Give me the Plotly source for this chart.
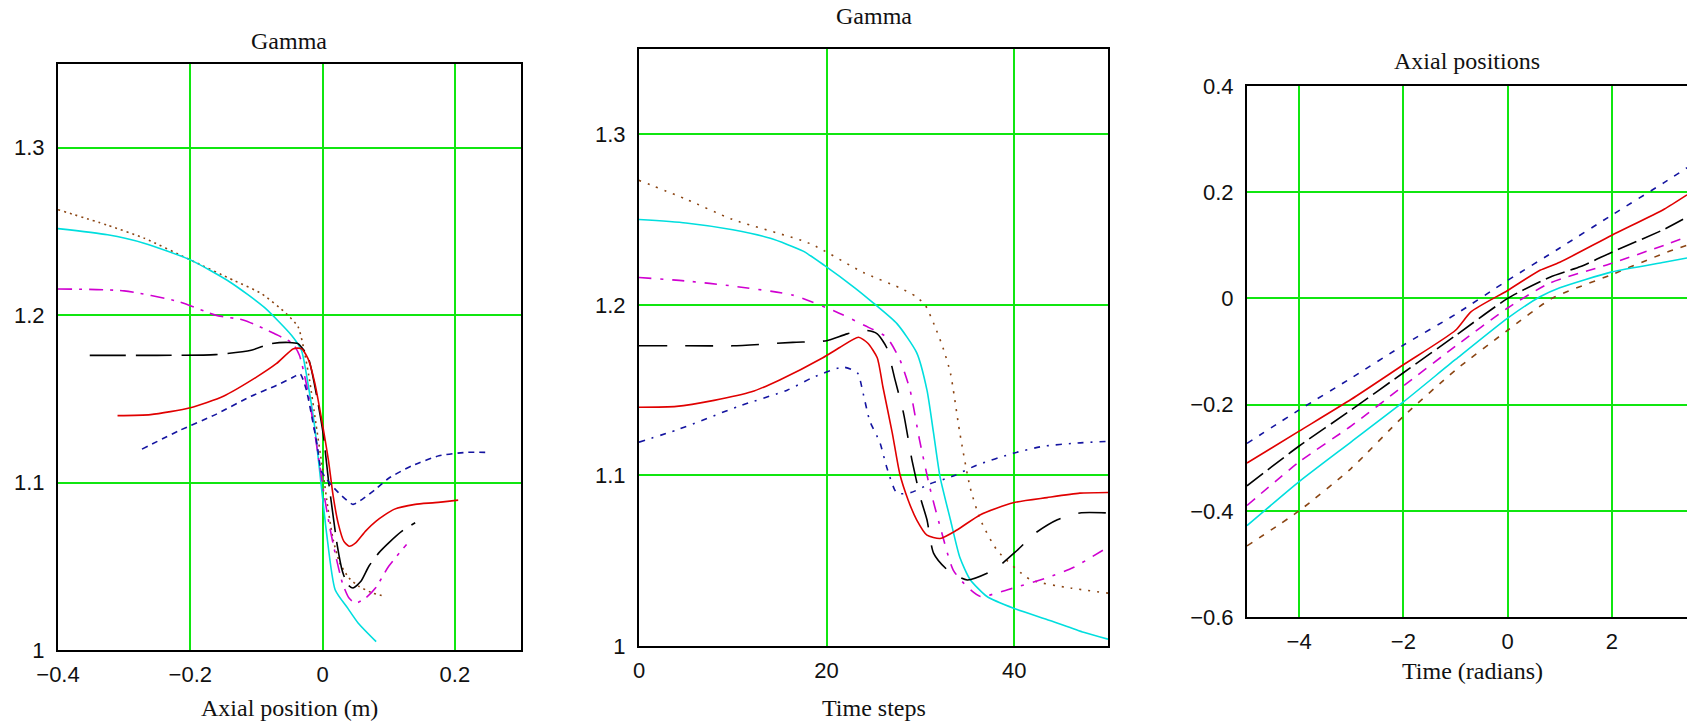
import plotly.graph_objects as go

W, H = 1687, 721

# ---------------- Panel 1: Gamma vs axial position (m) ----------------
p1_brown_x = [-0.4, -0.325, -0.27, -0.2, -0.134, -0.093, -0.055, -0.037, -0.029, -0.02, -0.01, 0.0, 0.008, 0.016, 0.026, 0.04, 0.055, 0.076, 0.095]
p1_brown_y = [1.263, 1.2537, 1.246, 1.233, 1.2207, 1.213, 1.201, 1.193, 1.181, 1.162, 1.135, 1.108, 1.085, 1.066, 1.052, 1.043, 1.038, 1.034, 1.032]

p1_cyan_x = [-0.4, -0.325, -0.27, -0.2, -0.139, -0.088, -0.047, -0.032, -0.022, -0.0125, -0.005, 0.0, 0.006, 0.019, 0.038, 0.054, 0.081]
p1_cyan_y = [1.2517, 1.248, 1.243, 1.233, 1.2195, 1.2046, 1.188, 1.179, 1.159, 1.135, 1.109, 1.091, 1.07, 1.036, 1.025, 1.016, 1.005]

p1_magenta_x = [-0.4, -0.3, -0.217, -0.162, -0.119, -0.073, -0.045, -0.035, -0.024, -0.014, -0.005, 0.003, 0.011, 0.02, 0.03, 0.04, 0.05, 0.065, 0.08, 0.1, 0.127]
p1_magenta_y = [1.2156, 1.2145, 1.208, 1.2, 1.197, 1.189, 1.183, 1.176, 1.158, 1.135, 1.112, 1.091, 1.073, 1.056, 1.04, 1.031, 1.028, 1.031, 1.037, 1.05, 1.063]

p1_black_x = [-0.352, -0.25, -0.162, -0.108, -0.078, -0.052, -0.037, -0.022, -0.0095, 0.001, 0.009, 0.016, 0.022, 0.03, 0.038, 0.046, 0.058, 0.07, 0.085, 0.1, 0.12, 0.14]
p1_black_y = [1.176, 1.176, 1.1764, 1.179, 1.183, 1.1837, 1.183, 1.175, 1.153, 1.129, 1.101, 1.08, 1.063, 1.047, 1.039, 1.037, 1.041, 1.05, 1.058, 1.064, 1.071, 1.076]

p1_red_x = [-0.31, -0.26, -0.2, -0.15, -0.1, -0.07, -0.044, -0.032, -0.022, -0.012, -0.002, 0.009, 0.016, 0.024, 0.032, 0.04, 0.05, 0.065, 0.081, 0.108, 0.14, 0.17, 0.205]
p1_red_y = [1.14, 1.1406, 1.1447, 1.1516, 1.163, 1.171, 1.18, 1.18, 1.174, 1.16, 1.139, 1.113, 1.092, 1.075, 1.065, 1.062, 1.064, 1.071, 1.077, 1.084, 1.087, 1.088, 1.0895]

p1_blue_x = [-0.273, -0.217, -0.162, -0.108, -0.07, -0.044, -0.034, -0.025, -0.017, -0.008, -0.002, 0.01, 0.024, 0.046, 0.06, 0.08, 0.1, 0.135, 0.176, 0.216, 0.252]
p1_blue_y = [1.12, 1.131, 1.1406, 1.1516, 1.158, 1.163, 1.165, 1.156, 1.141, 1.122, 1.107, 1.1, 1.094, 1.087, 1.09, 1.096, 1.1026, 1.11, 1.116, 1.118, 1.118]

# ---------------- Panel 2: Gamma vs time steps ----------------
p2_brown_t = [0, 5, 10, 18.2, 23.9, 27.8, 29.5, 30.5, 31.5, 32.4, 33.2, 34.2, 35.3, 36.4, 38.2, 41.7, 46, 50]
p2_brown_y = [1.273, 1.262, 1.25, 1.236, 1.219, 1.21, 1.205, 1.2, 1.188, 1.175, 1.16, 1.125, 1.093, 1.074, 1.056, 1.039, 1.034, 1.031]

p2_cyan_t = [0, 5, 10, 14, 17.5, 19.8, 23, 25, 27.5, 29.6, 30.7, 31.4, 32.1, 33.2, 34.2, 35.3, 37.1, 40, 43.8, 47.4, 50]
p2_cyan_y = [1.25, 1.248, 1.244, 1.239, 1.2315, 1.223, 1.21, 1.201, 1.189, 1.172, 1.15, 1.125, 1.099, 1.074, 1.052, 1.039, 1.029, 1.022, 1.015, 1.008, 1.004]

p2_magenta_t = [0, 5, 10, 16.4, 21.4, 24, 26.4, 27.8, 28.9, 29.9, 31, 32.1, 33.5, 35, 36.4, 39.3, 43.5, 46.3, 50]
p2_magenta_y = [1.216, 1.214, 1.211, 1.2057, 1.195, 1.188, 1.181, 1.168, 1.15, 1.121, 1.093, 1.07, 1.0445, 1.0346, 1.029, 1.033, 1.04, 1.046, 1.058]

p2_black_t = [0, 5, 10, 16.4, 20, 22.2, 24.3, 25.4, 26.4, 27.3, 28.2, 29.1, 30, 30.7, 31.4, 32.9, 35, 37.8, 40.3, 42.2, 44.6, 47, 50]
p2_black_y = [1.176, 1.176, 1.176, 1.178, 1.179, 1.183, 1.185, 1.183, 1.175, 1.156, 1.1365, 1.109, 1.087, 1.074, 1.0545, 1.0445, 1.0387, 1.0445, 1.056, 1.066, 1.074, 1.078, 1.078]

p2_red_t = [0, 4, 8, 12, 15, 19.6, 21.4, 23.4, 24.4, 25.4, 26, 27, 27.8, 28.7, 29.6, 30.7, 32.1, 33.9, 36.4, 39.9, 43.5, 47, 50]
p2_red_y = [1.14, 1.1405, 1.144, 1.149, 1.156, 1.169, 1.175, 1.181, 1.1775, 1.169, 1.152, 1.125, 1.101, 1.0855, 1.074, 1.065, 1.063, 1.068, 1.077, 1.084, 1.087, 1.0896, 1.09]

p2_blue_t = [0, 4.2, 10.6, 15.8, 18.6, 21.8, 23.3, 23.9, 24.6, 25.7, 26.4, 27.5, 29, 31, 33.5, 36, 39.9, 43, 46.7, 50]
p2_blue_y = [1.1195, 1.127, 1.1405, 1.15, 1.1576, 1.1635, 1.16, 1.148, 1.132, 1.119, 1.105, 1.0896, 1.09, 1.095, 1.0996, 1.106, 1.113, 1.117, 1.119, 1.12]

# ---------------- Panel 3: axial positions vs time (radians) ----------------
p3_blue_x = [-5, -4, -3, -2, -1, 0, 1, 2, 3, 3.44]
p3_blue_y = [-0.273, -0.21, -0.15, -0.088, -0.03, 0.034, 0.095, 0.157, 0.218, 0.246]

p3_red_x = [-5, -4, -3, -2, -1, -0.7, 0, 0.62, 1, 2, 3, 3.44]
p3_red_y = [-0.31, -0.25, -0.19, -0.125, -0.06, -0.025, 0.015, 0.053, 0.068, 0.119, 0.168, 0.195]

p3_black_x = [-5, -4, -3, -2, -1, 0, 0.81, 1.4, 2, 3, 3.44]
p3_black_y = [-0.353, -0.278, -0.21, -0.14, -0.07, 0.0, 0.04, 0.06, 0.087, 0.13, 0.153]

p3_magenta_x = [-5, -4, -3, -2, -1, 0, 0.81, 1.9, 3, 3.44]
p3_magenta_y = [-0.39, -0.308, -0.24, -0.165, -0.09, -0.018, 0.029, 0.063, 0.1, 0.116]

p3_cyan_x = [-5, -4, -3, -2, -1, 0, 0.62, 1, 2, 3, 3.44]
p3_cyan_y = [-0.428, -0.345, -0.27, -0.195, -0.115, -0.037, 0.003, 0.02, 0.05, 0.068, 0.076]

p3_brown_x = [-5, -4, -3, -2, -1, 0, 0.85, 2, 3, 3.44]
p3_brown_y = [-0.466, -0.4, -0.32, -0.222, -0.135, -0.06, 0.0, 0.045, 0.085, 0.1]

# Axis tick values
p1_xticks = [-0.4, -0.2, 0, 0.2]
gamma_yticks = [1, 1.1, 1.2, 1.3]
p2_xticks = [0, 20, 40]
p3_xticks = [-4, -2, 0, 2, 4]
p3_yticks = [-0.6, -0.4, -0.2, 0, 0.2, 0.4]

# ---------------- styling ----------------
RED = "#e00000"
BLUE = "#1414a0"
BLACK = "#000000"
MAGENTA = "#d000d0"
CYAN = "#00dede"
BROWN = "#8b4513"
GRID = "#10e610"
LW = 1.6

fig = go.Figure()


def add(x, y, color, dash, axes):
    xa, ya = axes
    fig.add_trace(go.Scatter(
        x=x, y=y, mode="lines", xaxis=xa, yaxis=ya,
        line=dict(color=color, width=LW, dash=dash, shape="spline", smoothing=0.6),
        showlegend=False, hoverinfo="skip"))


A1, A2, A3 = ("x", "y"), ("x2", "y2"), ("x3", "y3")

add(p1_brown_x, p1_brown_y, BROWN, "2px,4px", A1)
add(p1_cyan_x, p1_cyan_y, CYAN, "solid", A1)
add(p1_magenta_x, p1_magenta_y, MAGENTA, "14px,7px,3px,7px", A1)
add(p1_black_x, p1_black_y, BLACK, "36px,10px", A1)
add(p1_red_x, p1_red_y, RED, "solid", A1)
add(p1_blue_x, p1_blue_y, BLUE, "6px,5px", A1)

add(p2_brown_t, p2_brown_y, BROWN, "2px,7px", A2)
add(p2_cyan_t, p2_cyan_y, CYAN, "solid", A2)
add(p2_magenta_t, p2_magenta_y, MAGENTA, "12px,9px,3px,9px", A2)
add(p2_black_t, p2_black_y, BLACK, "28px,18px", A2)
add(p2_red_t, p2_red_y, RED, "solid", A2)
add(p2_blue_t, p2_blue_y, BLUE, "6px,7px,2px,7px", A2)

add(p3_brown_x, p3_brown_y, BROWN, "6px,8px", A3)
add(p3_cyan_x, p3_cyan_y, CYAN, "solid", A3)
add(p3_magenta_x, p3_magenta_y, MAGENTA, "10px,8px", A3)
add(p3_black_x, p3_black_y, BLACK, "20px,6px", A3)
add(p3_red_x, p3_red_y, RED, "solid", A3)
add(p3_blue_x, p3_blue_y, BLUE, "6px,8px", A3)


def px_x(v):
    return v / W


def px_y(v):
    return 1 - v / H


TICKFONT = dict(family="Liberation Sans, Arial, sans-serif", size=22, color="#111111")
LABELFONT = dict(family="Liberation Serif, Times New Roman, serif", size=24, color="#111111")


def xaxis(dom, rng, ticks, anchor, mirror=True):
    return dict(domain=dom, range=rng, tickvals=ticks, anchor=anchor,
                showgrid=True, gridcolor=GRID, gridwidth=2,
                showline=True, linecolor="black", linewidth=2, mirror=mirror,
                zeroline=False, ticks="", tickfont=TICKFONT, ticklabelstandoff=4,
                automargin=False, fixedrange=True)


def yaxis(dom, rng, ticks, anchor, mirror=True):
    return dict(domain=dom, range=rng, tickvals=ticks, anchor=anchor,
                showgrid=True, gridcolor=GRID, gridwidth=2,
                showline=True, linecolor="black", linewidth=2, mirror=mirror,
                zeroline=False, ticks="", tickfont=TICKFONT, ticklabelstandoff=7,
                automargin=False, fixedrange=True)


fig.update_layout(
    width=W, height=H,
    margin=dict(l=0, r=0, t=0, b=0, pad=0, autoexpand=False),
    paper_bgcolor="white", plot_bgcolor="white",
    xaxis=xaxis([px_x(58), px_x(521)], [-0.4, 0.3], p1_xticks, "y"),
    yaxis=yaxis([px_y(650), px_y(64)], [1.0, 1.35], gamma_yticks, "x"),
    xaxis2=xaxis([px_x(639), px_x(1108)], [0, 50], p2_xticks, "y2"),
    yaxis2=yaxis([px_y(646), px_y(49)], [1.0, 1.35], gamma_yticks, "x2"),
    xaxis3=xaxis([px_x(1247), 1.0], [-5, 3.44], p3_xticks, "y3"),
    yaxis3=yaxis([px_y(617), px_y(86)], [-0.6, 0.4], p3_yticks, "x3", mirror=False),
)

labels = [
    ("Gamma", 289, 41),
    ("Axial position (m)", 289, 708),
    ("Gamma", 874, 16),
    ("Time steps", 874, 708),
    ("Axial positions", 1467, 61),
    ("Time (radians)", 1472, 671),
]
for text, cx, cy in labels:
    fig.add_annotation(text=text, x=px_x(cx), y=px_y(cy), xref="paper", yref="paper",
                       showarrow=False, xanchor="center", yanchor="middle", font=LABELFONT)

fig.write_html("out.html")
